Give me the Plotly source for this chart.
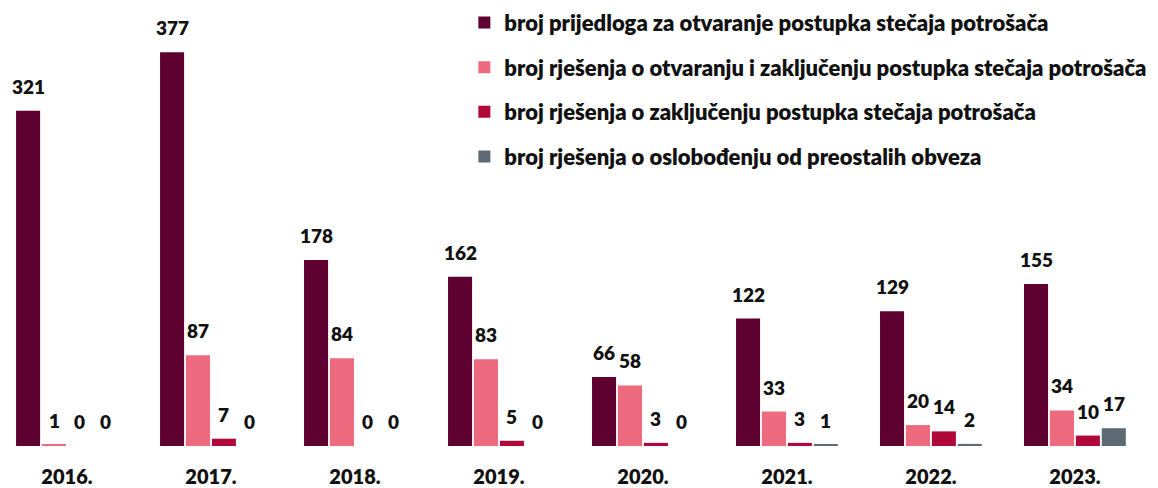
import plotly.graph_objects as go

years = ["2016.", "2017.", "2018.", "2019.", "2020.", "2021.", "2022.", "2023."]
series_names = [
    "broj prijedloga za otvaranje postupka stečaja potrošača",
    "broj rješenja o otvaranju i zaključenju postupka stečaja potrošača",
    "broj rješenja o zaključenju postupka stečaja potrošača",
    "broj rješenja o oslobođenju od preostalih obveza",
]
proposals = [321, 377, 178, 162, 66, 122, 129, 155]
opened_closed = [1, 87, 84, 83, 58, 33, 20, 34]
closed = [0, 7, 0, 5, 3, 3, 14, 10]
released = [0, 0, 0, 0, 0, 1, 2, 17]

colors = ["#5E0030", "#EE6A7E", "#B0083A", "#5D6973"]
FONT = "Lato"
WEIGHT = 800

all_series = [proposals, opened_closed, closed, released]
pitch = 0.18
bar_w = 0.167
offsets = [-1.5 * pitch, -0.5 * pitch, 0.5 * pitch, 1.5 * pitch]

fig = go.Figure()
annotations = []
for k, (name, vals) in enumerate(zip(series_names, all_series)):
    xs = [i + offsets[k] for i in range(len(years))]
    fig.add_trace(go.Bar(
        x=xs,
        y=vals,
        width=bar_w,
        name=name,
        legendgroup=f"g{k}",
        marker=dict(color=colors[k], line=dict(width=0)),
        hoverinfo="skip",
    ))
    for x, v in zip(xs, vals):
        annotations.append(dict(
            x=x, y=v, text=str(v), showarrow=False,
            xanchor="center", yanchor="bottom", yshift=11,
            font=dict(family=FONT, size=19, color="#111111", weight=WEIGHT),
        ))

fig.update_layout(
    width=1158,
    height=488,
    margin=dict(l=0, r=0, t=0, b=42),
    paper_bgcolor="white",
    plot_bgcolor="white",
    font=dict(family=FONT, size=19, color="#111111", weight=WEIGHT),
    barmode="overlay",
    showlegend=True,
    legend=dict(
        x=0.401, y=0.996, xanchor="left", yanchor="top",
        font=dict(family=FONT, size=22, color="#111111", weight=WEIGHT),
        tracegroupgap=13,
        bgcolor="rgba(0,0,0,0)",
    ),
    annotations=annotations,
)
fig.update_xaxes(
    range=[-0.465, 7.577],
    tickvals=list(range(len(years))),
    ticktext=years,
    showgrid=False,
    zeroline=False,
    showline=False,
    ticks="",
    ticklabelstandoff=17,
    tickfont=dict(family=FONT, size=20, color="#111111", weight=WEIGHT),
    fixedrange=True,
)
fig.update_yaxes(
    range=[0, 427],
    visible=False,
    showgrid=False,
    zeroline=False,
    fixedrange=True,
)

# the page body has a default 8px margin; drop it so the figure fills the window
fig.write_html(
    "out.html",
    config={"displayModeBar": False},
    post_script="document.body.style.margin='0';",
)
